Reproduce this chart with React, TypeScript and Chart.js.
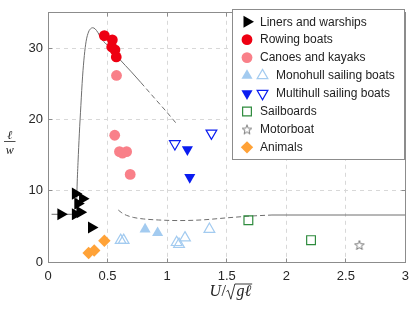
import React, { useEffect, useRef } from 'react';
import { Chart, registerables } from 'chart.js';
import { drawPoint } from 'chart.js/helpers';

Chart.register(...registerables);

// ---- ticks ----
const xTicks = [0, 0.5, 1, 1.5, 2, 2.5, 3];
const yTicks = [0, 10, 20, 30];

// ---- marker series (x = U/sqrt(g l), y = l/w) ----
const linersX = [0.108, 0.23, 0.27, 0.23, 0.29, 0.25, 0.365];
const linersY = [6.7, 6.7, 7.0, 9.6, 8.9, 8.2, 4.85];

const rowingX = [0.473, 0.54, 0.535, 0.562, 0.573];
const rowingY = [31.8, 31.2, 30.2, 29.8, 28.8];

const canoesX = [0.575, 0.56, 0.6, 0.625, 0.66, 0.69];
const canoesY = [26.2, 17.8, 15.5, 15.3, 15.5, 12.3];

const monoFilledX = [0.815, 0.92];
const monoFilledY = [4.6, 4.1];
const monoHollowX = [0.61, 0.635, 1.08, 1.1, 1.15, 1.355];
const monoHollowY = [3.05, 3.05, 2.75, 2.5, 3.4, 4.6];

const multiFilledX = [1.17, 1.19];
const multiFilledY = [15.8, 11.9];
const multiHollowX = [1.065, 1.372];
const multiHollowY = [16.6, 18.1];

const sailboardsX = [1.682, 2.208];
const sailboardsY = [5.86, 3.07];

const motorboatX = [2.614];
const motorboatY = [2.39];

const animalsX = [0.341, 0.388, 0.473];
const animalsY = [1.26, 1.62, 2.98];

// ---- curves ----
const upperSolidX = [0.03, 0.2, 0.236, 0.24, 0.243, 0.252, 0.263, 0.276, 0.29, 0.305, 0.32, 0.34, 0.36, 0.375, 0.395, 0.42, 0.445, 0.49, 0.55, 0.6, 0.7, 0.78];
const upperSolidY = [6.7, 6.7, 6.75, 7.6, 10, 14, 18, 22, 26, 29, 31, 32.3, 32.8, 32.9, 32.75, 32.2, 31.4, 30.6, 29.5, 28.5, 26.7, 25.2];
const upperDashX = [0.78, 0.9, 1.0, 1.075];
const upperDashY = [25.2, 22.9, 21.0, 19.5];
const lowerDashX = [0.59, 0.62, 0.66, 0.72, 0.8, 0.93, 1.1, 1.3, 1.5, 1.7, 1.88];
const lowerDashY = [7.3, 6.9, 6.55, 6.25, 6.05, 5.9, 5.82, 5.92, 6.2, 6.45, 6.6];
const lowerSolidX = [1.88, 3];
const lowerSolidY = [6.6, 6.6];

// ---- legend ----
const legendLabels = [
  'Liners and warships',
  'Rowing boats',
  'Canoes and kayaks',
  'Monohull sailing boats',
  'Multihull sailing boats',
  'Sailboards',
  'Motorboat',
  'Animals',
];
const legendSets = [[0], [1], [2], [3, 4], [5, 6], [7], [8], [9]];

const pts = (xs: number[], ys: number[]) => xs.map((x, i) => ({ x, y: ys[i] }));

const SANS = '"Liberation Sans", Arial, Helvetica, sans-serif';
const SERIF = '"Liberation Serif", "Times New Roman", serif';

function makeStar(color: string) {
  const c = document.createElement('canvas');
  c.width = 12;
  c.height = 12;
  const g = c.getContext('2d')!;
  g.strokeStyle = color;
  g.lineWidth = 1;
  g.beginPath();
  for (let i = 0; i < 10; i++) {
    const r = i % 2 === 0 ? 5 : 2.1;
    const a = -Math.PI / 2 + (i * Math.PI) / 5;
    const px = 6 + r * Math.cos(a);
    const py = 6.5 + r * Math.sin(a);
    if (i === 0) g.moveTo(px, py);
    else g.lineTo(px, py);
  }
  g.closePath();
  g.stroke();
  return c;
}

const decorPlugin = {
  id: 'decor',
  beforeDatasetsDraw(chart: any) {
    const { ctx, scales } = chart;
    const x = scales.x;
    const y = scales.y;
    const L = Math.floor(x.getPixelForValue(0)) + 0.5;
    const R = Math.floor(x.getPixelForValue(3)) + 0.5;
    const B = Math.floor(y.getPixelForValue(0)) + 0.5;
    const T = Math.floor(y.getPixelForValue(35)) + 0.5;
    ctx.save();
    ctx.strokeStyle = '#8c8c8c';
    ctx.lineWidth = 1;
    ctx.setLineDash([]);
    ctx.strokeRect(L, T, R - L, B - T);
    ctx.beginPath();
    const tl = 4;
    xTicks.forEach((v) => {
      const px = Math.floor(x.getPixelForValue(v)) + 0.5;
      ctx.moveTo(px, B);
      ctx.lineTo(px, B - tl);
      ctx.moveTo(px, T);
      ctx.lineTo(px, T + tl);
    });
    yTicks.forEach((v) => {
      const py = Math.floor(y.getPixelForValue(v)) + 0.5;
      ctx.moveTo(L, py);
      ctx.lineTo(L + tl, py);
      ctx.moveTo(R, py);
      ctx.lineTo(R - tl, py);
    });
    ctx.stroke();
    ctx.restore();
  },
  afterDatasetsDraw(chart: any) {
    const { ctx } = chart;
    const ds = chart.data.datasets;
    ctx.save();
    // legend box
    ctx.fillStyle = '#ffffff';
    ctx.fillRect(232.5, 9.5, 172, 150);
    ctx.strokeStyle = '#8c8c8c';
    ctx.lineWidth = 1;
    ctx.strokeRect(232.5, 9.5, 172, 150);
    ctx.font = `12px ${SANS}`;
    ctx.textBaseline = 'middle';
    ctx.textAlign = 'left';
    legendLabels.forEach((label, i) => {
      const cy = 21.7 + i * 17.95;
      const sets = legendSets[i];
      sets.forEach((di, k) => {
        const d = ds[di];
        const cx = k === 0 ? 247 : 262.5;
        ctx.fillStyle = d.backgroundColor;
        ctx.strokeStyle = d.borderColor;
        ctx.lineWidth = d.borderWidth;
        drawPoint(ctx, {
          pointStyle: d.pointStyle,
          rotation: d.rotation || 0,
          radius: d.pointRadius,
          borderWidth: d.borderWidth,
        } as any, cx, cy);
      });
      ctx.fillStyle = '#222222';
      ctx.fillText(label, sets.length > 1 ? 276 : 260, cy + 0.5);
    });
    ctx.restore();
  },
  afterDraw(chart: any) {
    const { ctx } = chart;
    ctx.save();
    ctx.fillStyle = '#222222';
    ctx.strokeStyle = '#222222';
    ctx.textBaseline = 'alphabetic';
    // y label: l over w
    ctx.font = `italic 12px ${SERIF}`;
    ctx.textAlign = 'center';
    ctx.fillText('\u2113', 9.8, 139);
    ctx.fillRect(4, 141.2, 11.5, 0.8);
    ctx.fillText('w', 9.8, 154);
    // x label: U / sqrt(g l)
    ctx.textAlign = 'left';
    let cx = 209.5;
    const base = 296;
    ctx.font = `italic 16px ${SERIF}`;
    ctx.fillText('U', cx, base);
    cx += ctx.measureText('U').width + 0.5;
    ctx.font = `16px ${SERIF}`;
    ctx.fillText('/', cx, base);
    cx += ctx.measureText('/').width + 0.5;
    // radical
    ctx.font = `italic 16px ${SERIF}`;
    const inner = 'g\u2113';
    const iw = ctx.measureText(inner).width;
    ctx.lineWidth = 0.9;
    ctx.beginPath();
    ctx.moveTo(cx, 291.5);
    ctx.lineTo(cx + 1.6, 290.3);
    ctx.lineTo(cx + 4.3, 299.2);
    ctx.lineTo(cx + 8.4, 284);
    ctx.lineTo(cx + 10 + iw + 1, 284);
    ctx.stroke();
    ctx.fillText(inner, cx + 10, base);
    ctx.restore();
  },
};

export default function App() {
  const ref = useRef<HTMLCanvasElement>(null);
  useEffect(() => {
    document.body.style.margin = '0';
    const star = makeStar('#7a7a7a');
    const red = '#ee0012';
    const pink = '#f98089';
    const lightBlue = '#a3cbf0';
    const blue = '#0a1cf0';
    const curveColor = '#6e6e6e';
    const marker = (label: string, xs: number[], ys: number[], style: any, r: number, bg: string, border: string, bw: number, rot = 0) => ({
      label,
      data: pts(xs, ys),
      pointStyle: style,
      pointRadius: r,
      rotation: rot,
      backgroundColor: bg,
      borderColor: border,
      borderWidth: bw,
      pointBackgroundColor: bg,
      pointBorderColor: border,
      pointBorderWidth: bw,
      pointRotation: rot,
      showLine: false,
      order: 0,
    });
    const curve = (label: string, xs: number[], ys: number[], dash: number[]) => ({
      label,
      data: pts(xs, ys),
      showLine: true,
      pointRadius: 0,
      borderColor: curveColor,
      backgroundColor: curveColor,
      borderWidth: 1,
      borderDash: dash,
      cubicInterpolationMode: 'monotone' as const,
      fill: false,
      order: 10,
    });
    const chart = new Chart(ref.current!, {
      type: 'scatter',
      data: {
        datasets: [
          marker('Liners and warships', linersX, linersY, 'triangle', 7, '#000000', '#000000', 0, 90),
          marker('Rowing boats', rowingX, rowingY, 'circle', 5.4, red, red, 0),
          marker('Canoes and kayaks', canoesX, canoesY, 'circle', 5.4, pink, pink, 0),
          marker('Monohull sailing boats', monoFilledX, monoFilledY, 'triangle', 6.4, lightBlue, lightBlue, 0),
          marker('Monohull sailing boats (open)', monoHollowX, monoHollowY, 'triangle', 6.2, 'rgba(0,0,0,0)', lightBlue, 1.2),
          marker('Multihull sailing boats', multiFilledX, multiFilledY, 'triangle', 6.4, blue, blue, 0, 180),
          marker('Multihull sailing boats (open)', multiHollowX, multiHollowY, 'triangle', 6.2, 'rgba(0,0,0,0)', blue, 1.2, 180),
          marker('Sailboards', sailboardsX, sailboardsY, 'rect', 6.2, 'rgba(0,0,0,0)', '#2e8b3d', 1.2),
          marker('Motorboat', motorboatX, motorboatY, star, 6, 'rgba(0,0,0,0)', '#7a7a7a', 1),
          marker('Animals', animalsX, animalsY, 'rectRot', 6.2, '#ffa237', '#ffa237', 0),
          curve('upper solid', upperSolidX, upperSolidY, []),
          curve('upper dashed', upperDashX, upperDashY, [5, 3]),
          curve('lower dashed', lowerDashX, lowerDashY, [5, 3]),
          curve('lower solid', lowerSolidX, lowerSolidY, []),
        ] as any,
      },
      options: {
        responsive: false,
        maintainAspectRatio: false,
        animation: false,
        events: [],
        layout: { padding: { top: 3.5, right: 6.5, left: 0, bottom: 0 } },
        plugins: { legend: { display: false }, tooltip: { enabled: false }, title: { display: false } },
        scales: {
          x: {
            type: 'linear',
            min: 0,
            max: 3,
            afterBuildTicks: (s: any) => { s.ticks = xTicks.map((v) => ({ value: v })); },
            afterFit: (s: any) => { s.height = 48; },
            ticks: {
              padding: 7,
              color: '#262626',
              font: { family: SANS, size: 13 },
              maxRotation: 0,
              callback: (v: any) => String(v),
            },
            grid: { color: '#d8d8d8', drawTicks: false, lineWidth: 1 },
            border: { display: false, dash: [4, 4] },
          },
          y: {
            type: 'linear',
            min: 0,
            max: 35,
            afterBuildTicks: (s: any) => { s.ticks = yTicks.map((v) => ({ value: v })); },
            afterFit: (s: any) => { s.width = 48; },
            ticks: {
              padding: 5,
              color: '#262626',
              font: { family: SANS, size: 13 },
              callback: (v: any) => String(v),
            },
            grid: { color: '#d8d8d8', drawTicks: false, lineWidth: 1 },
            border: { display: false, dash: [4, 4] },
          },
        },
      } as any,
      plugins: [decorPlugin],
    });
    return () => chart.destroy();
  }, []);
  return (
    <div style={{ width: 416, height: 310 }}>
      <canvas ref={ref} width={416} height={310} style={{ display: 'block', width: 416, height: 310 }} />
    </div>
  );
}
